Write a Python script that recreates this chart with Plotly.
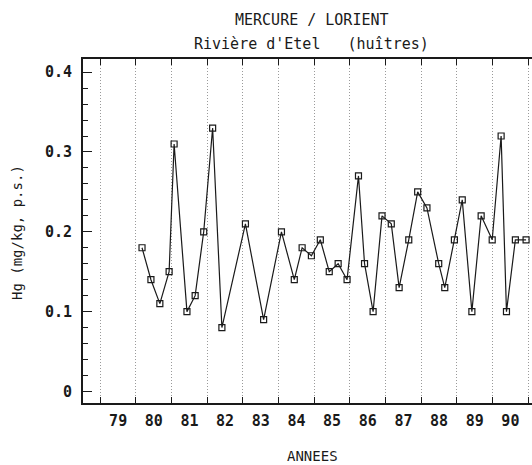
import plotly.graph_objects as go

# Data
years = [80.17, 80.42, 80.67, 80.93, 81.07, 81.43, 81.66, 81.90, 82.15, 82.41,
         83.07, 83.58, 84.08, 84.44, 84.66, 84.92, 85.17, 85.42, 85.67, 85.92,
         86.24, 86.41, 86.65, 86.90, 87.16, 87.38, 87.65, 87.90, 88.16, 88.49,
         88.66, 88.93, 89.15, 89.42, 89.68, 89.99, 90.24, 90.39, 90.64, 90.94]
hg = [0.18, 0.14, 0.11, 0.15, 0.31, 0.10, 0.12, 0.20, 0.33, 0.08,
      0.21, 0.09, 0.20, 0.14, 0.18, 0.17, 0.19, 0.15, 0.16, 0.14,
      0.27, 0.16, 0.10, 0.22, 0.21, 0.13, 0.19, 0.25, 0.23, 0.16,
      0.13, 0.19, 0.24, 0.10, 0.22, 0.19, 0.32, 0.10, 0.19, 0.19]

year_ticks = list(range(79, 92))
year_labels = [str(y) for y in range(79, 91)]
y_ticks = [0, 0.1, 0.2, 0.3, 0.4]
y_labels = ["0", "0.1", "0.2", "0.3", "0.4"]

title1 = "MERCURE / LORIENT"
title2 = "Rivière d'Etel   (huîtres)"
ytitle = "Hg (mg/kg, p.s.)"
xtitle = "ANNEES"

FONT = "DejaVu Sans Mono"
INK = "#1a1a1a"
xr = [78.515, 91.106]

fig = go.Figure()
fig.add_trace(go.Scatter(
    x=years, y=hg, mode="lines+markers",
    line=dict(color=INK, width=1.2),
    marker=dict(symbol="square-open", size=6, color=INK, line=dict(width=1.2, color=INK)),
    showlegend=False, hoverinfo="x+y"))
# invisible trace so the label axis is drawn
fig.add_trace(go.Scatter(x=[xr[0], xr[1]], y=[None, None], xaxis="x2",
                         mode="markers", showlegend=False, hoverinfo="skip"))

tickfont = dict(family=FONT, size=15, color=INK, weight="bold")

fig.update_layout(
    width=532, height=465,
    margin=dict(l=83, r=0, t=59, b=62),
    paper_bgcolor="white", plot_bgcolor="white",
    font=dict(family=FONT, size=14, color=INK),
    xaxis=dict(range=xr, tickvals=year_ticks, showticklabels=False,
               ticks="inside", ticklen=6, tickwidth=1.2, tickcolor=INK,
               mirror="ticks", showline=True, linecolor=INK, linewidth=1.8,
               showgrid=True, gridcolor="#9a9a9a", gridwidth=1, griddash="1px,2px",
               zeroline=False),
    xaxis2=dict(range=xr, overlaying="x", side="bottom",
                tickvals=[y + 0.5 for y in range(79, 91)], ticktext=year_labels,
                ticks="", showgrid=False, showline=False, zeroline=False,
                tickfont=tickfont, ticklabelstandoff=7),
    yaxis=dict(range=[-0.0145, 0.4165], tickvals=y_ticks, ticktext=y_labels,
               ticks="inside", ticklen=9, tickwidth=1.2, tickcolor=INK,
               minor=dict(dtick=0.02, tick0=0, ticks="inside", ticklen=5,
                          tickwidth=1, tickcolor=INK, showgrid=False),
               showline=True, linecolor=INK, linewidth=1.8, mirror=False,
               showgrid=False, zeroline=False,
               tickfont=tickfont, ticklabelstandoff=6),
    annotations=[
        dict(text=title1, x=0.51, y=1.1134, xref="paper", yref="paper",
             showarrow=False, xanchor="center", yanchor="middle",
             font=dict(family=FONT, size=15, color=INK)),
        dict(text=title2, x=0.51, y=1.0436, xref="paper", yref="paper",
             showarrow=False, xanchor="center", yanchor="middle",
             font=dict(family=FONT, size=15, color=INK)),
        dict(text=ytitle, x=-0.147, y=0.497, xref="paper", yref="paper",
             showarrow=False, textangle=-90, xanchor="center", yanchor="middle",
             font=dict(family=FONT, size=14, color=INK)),
        dict(text=xtitle, x=0.512, y=-0.154, xref="paper", yref="paper",
             showarrow=False, xanchor="center", yanchor="middle",
             font=dict(family=FONT, size=14, color=INK)),
    ],
)

fig.write_html("out.html", config={"displayModeBar": False},
               post_script="document.body.style.margin='0';document.body.style.overflow='hidden';")
